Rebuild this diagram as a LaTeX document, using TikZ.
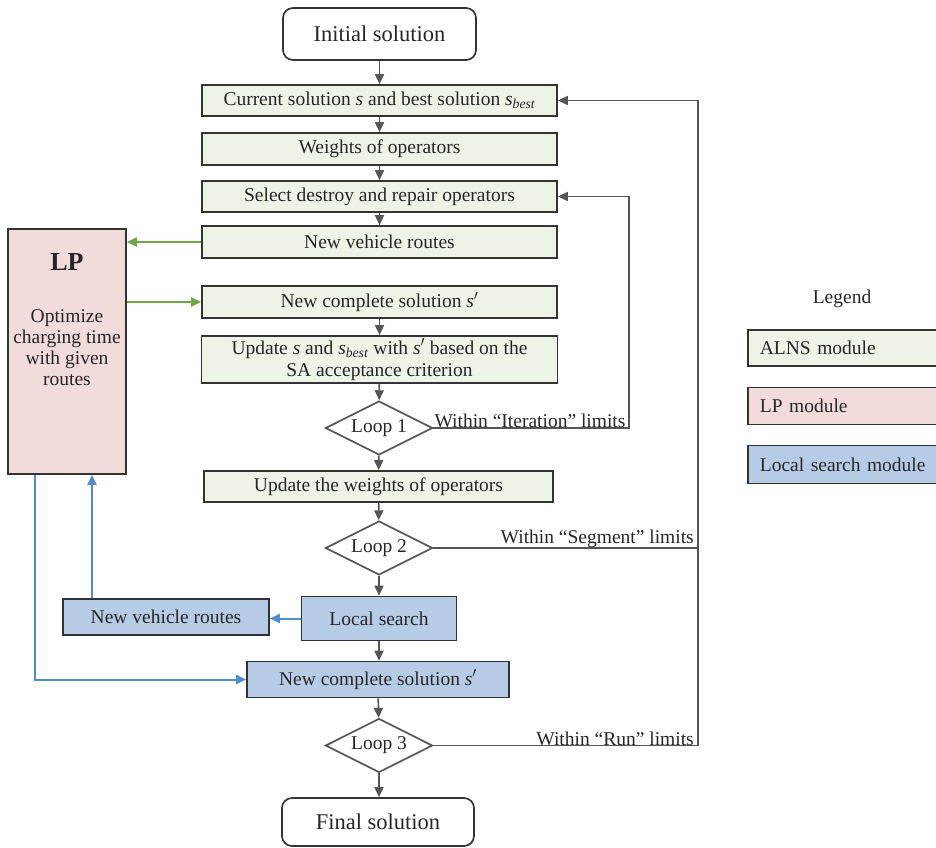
\documentclass[tikz,border=0pt]{standalone}
\usepackage{fontspec}
\setmainfont{Liberation Serif}
\usetikzlibrary{shapes.geometric,arrows.meta,calc}
\definecolor{alns}{HTML}{EEF3E8}
\definecolor{lpc}{HTML}{F2DCDB}
\definecolor{lsc}{HTML}{B6CCE6}
\definecolor{bordc}{HTML}{333333}
\definecolor{arrc}{HTML}{555555}
\definecolor{garrc}{HTML}{6FA544}
\definecolor{barrc}{HTML}{4F8CD2}
\newcommand{\sv}{\textit{s}}
\newcommand{\sbest}{\textit{s}\textsubscript{\textit{best}}}
\tikzset{
  base/.style={draw=bordc, line width=1.7pt, inner sep=1pt, align=center,
    font=\fontsize{19.5}{22}\selectfont, text=black!85},
  abox/.style={base, fill=alns, rectangle},
  lbox/.style={base, fill=lsc, rectangle},
  term/.style={base, rounded corners=10pt, fill=white,
    font=\fontsize{22.5}{24}\selectfont},
  dec/.style={base, diamond, aspect=2, inner sep=0pt, fill=white,
    minimum width=107pt, minimum height=54pt, draw=arrc},
  arr/.style={draw=arrc, line width=1.7pt, -{Triangle[length=10pt,width=9pt]}},
  plain/.style={draw=arrc, line width=1.7pt},
  garr/.style={draw=garrc, line width=2pt, -{Triangle[length=10pt,width=9pt]}},
  barr/.style={draw=barrc, line width=2pt, -{Triangle[length=10pt,width=9pt]}},
  lab/.style={font=\fontsize{19.5}{22}\selectfont, inner sep=1pt, text=black!85},
  legbox/.style={draw=bordc, line width=1.7pt, rectangle, minimum width=200pt,
    anchor=west, text width=180pt, align=left, inner xsep=12pt,
    font=\fontsize{19.5}{22}\selectfont, text=black!85}
}
\begin{document}
\begin{tikzpicture}[x=1pt,y=-1pt]
\clip (0,0) rectangle (936,847);
% flow nodes
\node[term, minimum width=193pt, minimum height=52pt] (init) at (379.5,34) {Initial solution};
\node[abox, minimum width=355pt, minimum height=31pt] (cur) at (379.5,100.5) {Current solution \sv{} and best solution \sbest};
\node[abox, minimum width=355pt, minimum height=32pt] (wgt) at (379.5,149) {Weights of operators};
\node[abox, minimum width=355pt, minimum height=31pt] (sel) at (379.5,196.5) {Select destroy and repair operators};
\node[abox, minimum width=355pt, minimum height=32pt] (nvr) at (379.5,242) {New vehicle routes};
\node[abox, minimum width=355pt, minimum height=32pt] (ncs) at (379.5,302) {New complete solution \sv$'$};
\node[abox, minimum width=356pt, minimum height=47pt] (upd) at (379.5,359.5) {Update \sv{} and \sbest{} with \sv$'$ based on the\\SA acceptance criterion};
\node[dec] (loop1) at (379,428) {Loop 1};
\node[abox, minimum width=349pt, minimum height=31pt] (updw) at (378.5,486.5) {Update the weights of operators};
\node[dec] (loop2) at (379,548) {Loop 2};
\node[lbox, minimum width=155pt, minimum height=44pt] (ls) at (379,618.5) {Local search};
\node[lbox, minimum width=206pt, minimum height=36pt] (nvrb) at (166,617) {New vehicle routes};
\node[lbox, minimum width=262pt, minimum height=36pt] (ncsb) at (378,679.5) {New complete solution \sv$'$};
\node[dec] (loop3) at (379,745.5) {Loop 3};
\node[term, minimum width=192pt, minimum height=48pt] (fin) at (378,822) {Final solution};
% LP box
\node[base, fill=lpc, minimum width=118pt, minimum height=245pt] (lp) at (67,351.5) {};
\node[font=\fontsize{26}{28}\selectfont\bfseries, inner sep=0pt, text=black!85] (lpt) at (67,262) {LP};
\node[font=\fontsize{19.5}{21}\selectfont, align=center, inner sep=0pt, anchor=north, text=black!85] (lpb) at (67,309) {Optimize\\charging time\\with given\\routes};
% main arrows
\draw[arr] (init) -- (cur);
\draw[arr] (cur) -- (wgt);
\draw[arr] (wgt) -- (sel);
\draw[arr] (sel) -- (nvr);
\draw[arr] (ncs) -- (upd);
\draw[arr] (upd) -- (loop1);
\draw[arr] (loop1) -- (updw);
\draw[arr] (updw) -- (loop2);
\draw[arr] (loop2) -- (ls);
\draw[arr] (ls) -- (ls |- ncsb.north);
\draw[arr] (ncsb) -- (loop3);
\draw[arr] (loop3) -- (loop3 |- fin.north);
% LP connectors
\draw[garr] (nvr.west) -- (nvr.west -| lp.east);
\draw[garr] (ncs.west -| lp.east) -- (ncs.west);
\coordinate (b1) at (92,0);
\coordinate (b2) at (35,0);
\draw[barr] (b1 |- nvrb.north) -- (b1 |- lp.south);
\draw[barr] (b2 |- lp.south) |- (ncsb.west);
\draw[barr] (ls.west) -- (ls.west -| nvrb.east);
% feedback loops
\coordinate (r1) at (629,0);
\coordinate (r2) at (698,0);
\draw[arr] (loop1.east) -| (r1 |- sel.east) -- (sel.east);
\draw[arr] (loop2.east) -| (r2 |- cur.east) -- (cur.east);
\draw[plain] (loop3.east) -| (r2 |- loop2.east);
\node[lab, anchor=south west] (l1) at ([yshift=-1pt]loop1.east) {Within “Iteration” limits};
\node[lab, anchor=south east] (l2) at ([xshift=-3pt,yshift=-1pt]r2 |- loop2.east) {Within “Segment” limits};
\node[lab, anchor=south east] (l3) at ([xshift=-3pt,yshift=-1pt]r2 |- loop3.east) {Within “Run” limits};
% legend
\node[lab] (leg) at (842,299) {Legend};
\node[legbox, fill=alns, minimum height=36pt] (lg1) at (747,348) {ALNS module};
\node[legbox, fill=lpc, minimum height=37pt] (lg2) at (747,406) {LP module};
\node[legbox, fill=lsc, minimum height=38pt] (lg3) at (747,464.5) {Local search module};
\end{tikzpicture}
\end{document}
